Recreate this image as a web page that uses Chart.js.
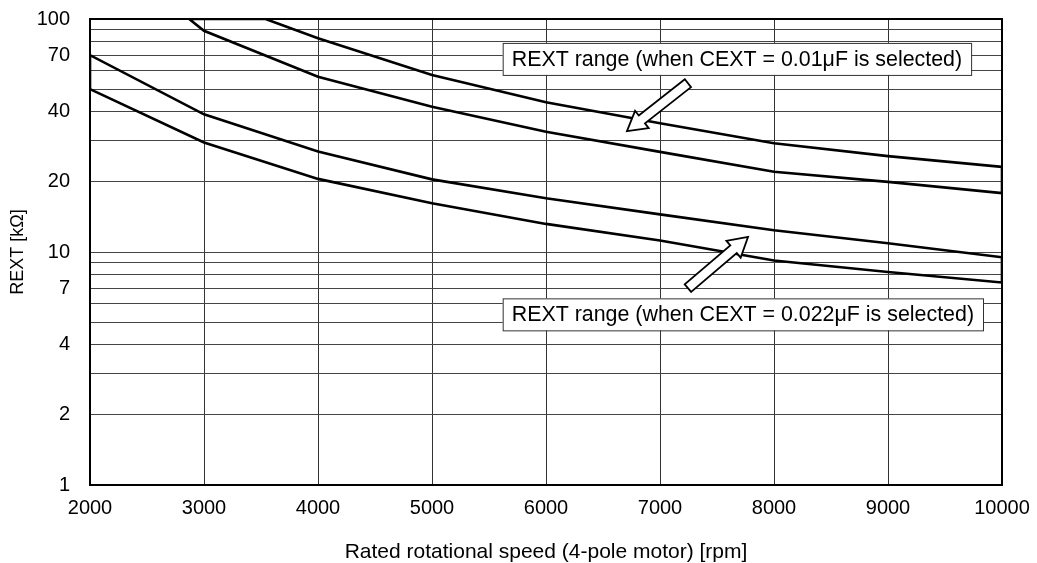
<!DOCTYPE html>
<html>
<head>
<meta charset="utf-8">
<script src="https://cdn.jsdelivr.net/npm/chart.js@4.4.1/dist/chart.umd.min.js"></script>
<style>
  html, body { margin: 0; padding: 0; background: #fff; }
</style>
</head>
<body>
<canvas id="rextChart" width="1037" height="563"></canvas>
<script>
// speed axis (rpm)
const rpm = [2000, 3000, 4000, 5000, 6000, 7000, 8000, 9000, 10000];

// CEXT = 0.022uF band
const rext022Upper = [70, 39, 27, 20.5, 17, 14.5, 12.4, 10.9, 9.5];
const rext022Lower = [50, 29.5, 20.6, 16.2, 13.2, 11.2, 9.2, 8.2, 7.4];

// CEXT = 0.01uF band (starts off the top of the chart)
const rpm01Upper = [3540, 4000, 5000, 6000, 7000, 8000, 9000, 10000];
const rext01Upper = [100, 82.6, 57.5, 43.9, 35.7, 29.3, 25.8, 23.2];
const rpm01Lower = [2870, 3000, 4000, 5000, 6000, 7000, 8000, 9000, 10000];
const rext01Lower = [100, 89, 56.5, 42, 32.8, 26.9, 22.1, 20.0, 17.9];

const yGrid = [1, 2, 3, 4, 5, 6, 7, 8, 9, 10, 20, 30, 40, 50, 60, 70, 80, 90, 100];
const yLabels = [1, 2, 4, 7, 10, 20, 40, 70, 100];

const FONT = "'Liberation Sans', Arial, sans-serif";

// closed outline: lower curve left->right, upper curve right->left, back to start
function band(xl, yl, xu, yu) {
  const pts = xl.map((x, i) => ({ x: x, y: yl[i] }));
  for (let i = xu.length - 1; i >= 0; i--) pts.push({ x: xu[i], y: yu[i] });
  pts.push(pts[0]);
  return pts;
}

const notes = [
  { text: "REXT range (when CEXT = 0.01\u03bcF is selected)", x: 5620, y: 67.4, tail: [7245, 53], tip: [6710, 33] },
  { text: "REXT range (when CEXT = 0.022\u03bcF is selected)", x: 5620, y: 5.4, tail: [7245, 7.0], tip: [7772, 11.6] }
];

function drawArrow(ctx, x0, y0, x1, y1) {
  const dx = x1 - x0, dy = y1 - y0;
  const len = Math.hypot(dx, dy);
  const ux = dx / len, uy = dy / len;
  const nx = -uy, ny = ux;
  const sw = 5, hw = 11, hl = 19;
  const bx = x1 - ux * hl, by = y1 - uy * hl;
  const p = [
    [x0 + nx * sw, y0 + ny * sw],
    [bx + nx * sw, by + ny * sw],
    [bx + nx * hw, by + ny * hw],
    [x1, y1],
    [bx - nx * hw, by - ny * hw],
    [bx - nx * sw, by - ny * sw],
    [x0 - nx * sw, y0 - ny * sw]
  ];
  ctx.beginPath();
  ctx.moveTo(p[0][0], p[0][1]);
  for (let i = 1; i < p.length; i++) ctx.lineTo(p[i][0], p[i][1]);
  ctx.closePath();
  ctx.fillStyle = "#fff";
  ctx.fill();
  ctx.lineWidth = 1.8;
  ctx.strokeStyle = "#000";
  ctx.lineJoin = "miter";
  ctx.stroke();
}

const annotations = {
  id: "annotations",
  afterDatasetsDraw(chart) {
    const ctx = chart.ctx;
    const a = chart.chartArea;
    const xs = chart.scales.x, ys = chart.scales.y;
    ctx.save();
    // frame
    ctx.strokeStyle = "#000";
    ctx.lineWidth = 2;
    ctx.strokeRect(a.left, a.top, a.right - a.left, a.bottom - a.top);

    ctx.font = "21.4px " + FONT;
    ctx.textBaseline = "middle";
    ctx.textAlign = "left";
    notes.forEach(n => {
      const left = xs.getPixelForValue(n.x);
      const cy = ys.getPixelForValue(n.y);
      const w = ctx.measureText(n.text).width + 18;
      const h = 32;
      ctx.fillStyle = "#fff";
      ctx.fillRect(left, cy - h / 2, w, h);
      ctx.lineWidth = 1;
      ctx.strokeStyle = "#333";
      ctx.strokeRect(left + 0.5, cy - h / 2 + 0.5, w, h);
      ctx.fillStyle = "#000";
      ctx.fillText(n.text, left + 9, cy + 1);
      drawArrow(ctx,
        xs.getPixelForValue(n.tail[0]), ys.getPixelForValue(n.tail[1]),
        xs.getPixelForValue(n.tip[0]), ys.getPixelForValue(n.tip[1]));
    });
    ctx.restore();
  }
};

const lineStyle = {
  showLine: true,
  fill: false,
  borderColor: "#000",
  borderWidth: 2.6,
  pointRadius: 0,
  tension: 0,
  borderJoinStyle: "miter"
};

new Chart(document.getElementById("rextChart"), {
  type: "scatter",
  data: {
    datasets: [
      Object.assign({ label: "CEXT = 0.01uF", data: band(rpm01Lower, rext01Lower, rpm01Upper, rext01Upper) }, lineStyle),
      Object.assign({ label: "CEXT = 0.022uF", data: band(rpm, rext022Lower, rpm, rext022Upper) }, lineStyle)
    ]
  },
  options: {
    responsive: false,
    animation: false,
    layout: { padding: { left: 0, right: 35, top: 19, bottom: 0 } },
    plugins: {
      legend: { display: false },
      tooltip: { enabled: false }
    },
    scales: {
      x: {
        type: "linear",
        min: 2000,
        max: 10000,
        afterFit: s => { s.height = 78; s.paddingLeft = 0; s.paddingRight = 0; },
        afterBuildTicks: s => { s.ticks = rpm.map(v => ({ value: v })); },
        ticks: {
          autoSkip: false,
          maxRotation: 0,
          padding: 11,
          color: "#000",
          font: { family: FONT, size: 20 },
          callback: v => String(v)
        },
        grid: { color: "#333", lineWidth: 1, drawTicks: false },
        border: { color: "#000", width: 2 },
        title: {
          display: true,
          text: "Rated rotational speed (4-pole motor) [rpm]",
          color: "#000",
          font: { family: FONT, size: 21, lineHeight: 1 },
          padding: { top: 0, bottom: 0 }
        }
      },
      y: {
        type: "logarithmic",
        min: 1,
        max: 100,
        afterFit: s => { s.width = 90; s.paddingTop = 0; s.paddingBottom = 0; },
        afterBuildTicks: s => { s.ticks = yGrid.map(v => ({ value: v })); },
        ticks: {
          autoSkip: false,
          padding: 20,
          color: "#000",
          font: { family: FONT, size: 20 },
          callback: v => (yLabels.includes(v) ? String(v) : "")
        },
        grid: { color: "#444", lineWidth: 1, drawTicks: false },
        border: { color: "#000", width: 2 },
        title: {
          display: true,
          text: "REXT [k\u03a9]",
          color: "#000",
          font: { family: FONT, size: 18 },
          padding: { top: 7, bottom: 0 }
        }
      }
    }
  },
  plugins: [annotations]
});
</script>
</body>
</html>
